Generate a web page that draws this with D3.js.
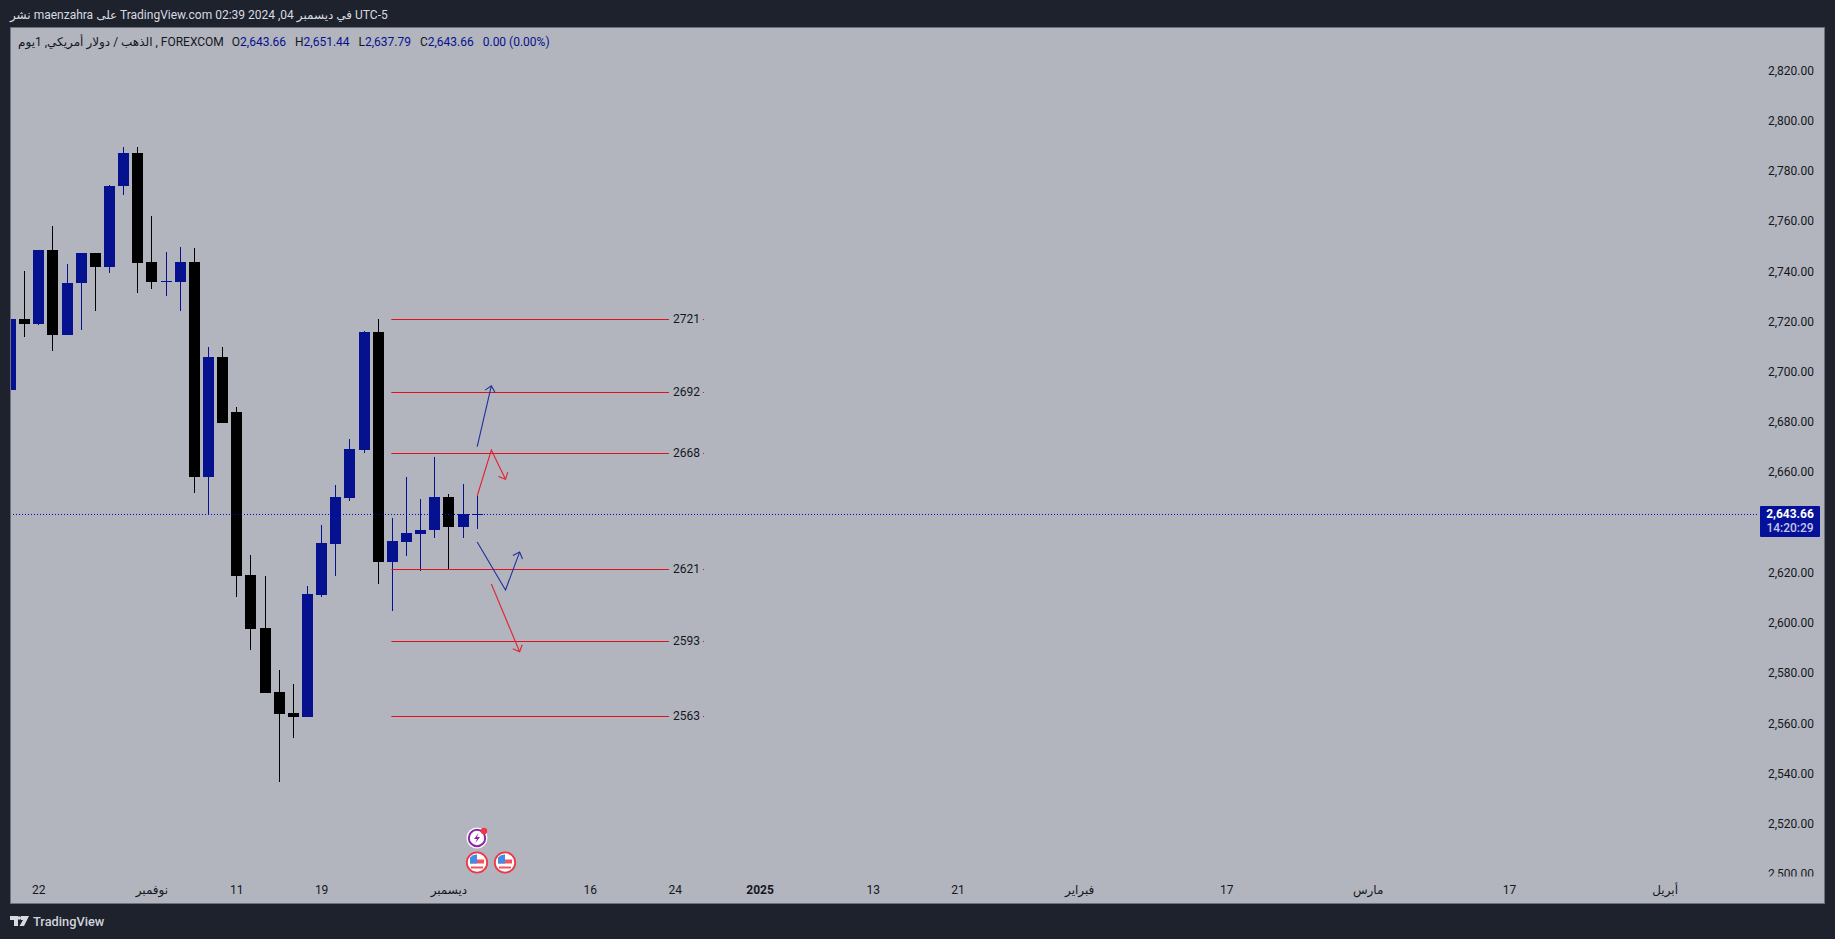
<!DOCTYPE html>
<html><head><meta charset="utf-8">
<style>html,body{margin:0;padding:0;background:#1e222d;overflow:hidden}svg{display:block}text{white-space:pre}</style>
<script src="https://cdn.jsdelivr.net/npm/d3@7"></script></head>
<body><svg id="c" width="1835" height="939"></svg>
<script>
// bar index 0 is the first (clipped) candle
const opens  = [2693.18,2721.47,2719.48,2748.96,2715.09,2735.81,2747.76,2742.19,2774.46,2787.60,2744.18,2736.61,2736.21,2744.18,2658.52,2706.33,2684.42,2619.48,2598.36,2572.86,2564.50,2562.90,2611.51,2631.83,2650.15,2669.28,2716.29,2624.66,2632.62,2635.81,2637.40,2650.55,2638.60,2643.66];
const highs  = [2722.66,2740.59,2748.96,2758.52,2743.38,2747.76,2747.76,2774.85,2789.99,2789.99,2762.50,2748.16,2750.15,2749.75,2710.31,2710.31,2686.41,2627.44,2619.08,2581.63,2576.05,2615.09,2639.40,2655.33,2673.66,2716.69,2721.47,2642.19,2658.52,2649.76,2666.49,2651.75,2655.73,2650.95];
const lows   = [2693.18,2714.30,2719.08,2708.72,2715.09,2717.09,2724.66,2739.80,2770.87,2731.83,2733.42,2730.63,2724.66,2652.00,2643.66,2680.03,2610.71,2589.60,2572.47,2537.01,2554.54,2562.90,2610.71,2619.08,2648.96,2668.08,2615.89,2605.13,2627.05,2621.07,2634.22,2621.87,2634.22,2637.80];
const closes = [2721.47,2719.48,2748.96,2715.09,2735.81,2747.76,2742.19,2774.46,2787.60,2743.78,2736.21,2736.61,2744.18,2658.52,2706.33,2680.03,2619.08,2597.96,2572.47,2564.10,2562.90,2611.91,2632.23,2650.55,2669.68,2716.29,2624.66,2633.02,2636.21,2637.40,2650.55,2638.60,2643.66,2643.66];
const upFlags = [1,0,1,0,1,1,0,1,1,0,0,1,1,0,1,0,0,0,0,0,0,1,1,1,1,1,0,1,1,1,1,0,1,1];

const priceTicks = d3.range(2500, 2821, 20);
const timeTickIdx = [2,10,16,22,31,41,47,53,61,67,75.6,86,96,106,117];
const timeTickLab = ["22","نوفمبر","11","19","ديسمبر","16","24","2025","13","21","فبراير","17","مارس","17","أبريل"];
const boldTimeTicks = ["2025"];

const levelPrices = [2721.35,2692.27,2667.96,2621.75,2593.06,2563.18];
const levelLabels = ["2721","2692","2668","2621","2593","2563"];
const levelFrom = 26.93, levelTo = 46.56;

const arrowBlueUpX = [33,34], arrowBlueUpY = [2670.6,2694.8];
const arrowRedUpDownX = [33,34,35], arrowRedUpDownY = [2650.95,2669.28,2657.6];
const arrowBlueDownUpX = [33,35,36], arrowBlueDownUpY = [2632.62,2613.5,2628.6];
const arrowRedDownX = [34,36], arrowRedDownY = [2615.89,2588.9];

const lastPrice = 2643.66;
const headerParts = ["نشر"," maenzahra ","على"," TradingView.com 02:39 2024 ,04 ","في ديسمبر"," UTC-5"];
const countdown = "14:20:29";
const legendParts = ["الذهب / دولار أمريكي, 1يوم",", FOREXCOM"];
const legendItems = [["O","2,643.66"],["H","2,651.44"],["L","2,637.79"],["C","2,643.66"]];
const legendChange = "0.00 (0.00%)";

const BG="#1e222d", PANEL="#b2b5be", BLUE="#06118f", BLACK="#000000", RED="#e0101c", LBLUE="#1f2f9a", ARED="#e5202f";
const FONT="Roboto,'DejaVu Sans',sans-serif";
const svg=d3.select("#c");
const L=10,T=27,R=1824,B=903,AX=1755;

svg.append("rect").attr("width",1835).attr("height",939).attr("fill",BG);
svg.append("rect").attr("x",L+.5).attr("y",T+.5).attr("width",R-L).attr("height",B-T).attr("fill",PANEL).attr("stroke","#6f727d").attr("stroke-width",1);

const defs=svg.append("defs");
defs.append("clipPath").attr("id","plot").append("rect").attr("x",L+1).attr("y",T+1).attr("width",R-L-1).attr("height",B-T-1);
defs.append("clipPath").attr("id","pricecol").append("rect").attr("x",L).attr("y",T).attr("width",R-L).attr("height",876.5-T);

const x=d3.scaleLinear().domain([1,33]).range([24.65,477.2]);
const y=d3.scaleLinear().domain([lastPrice,2620]).range([514.3,573.7]);

// sequential ltr runs, so the mixed-script strings keep the reference's visual order
function runs(parent,x0,yy,parts,attrs){
  let cx=x0;
  parts.forEach(p=>{
    const t=parent.append("text").attr("x",cx).attr("y",yy).attr("dy","0.35em").attr("font-family",FONT).attr("font-size",12)
      .attr("fill",attrs.fill).text(p.text||p);
    if(p.fill) t.attr("fill",p.fill);
    cx+=t.node().getComputedTextLength()+(p.gap||0);
  });
  return cx;
}

// header
runs(svg,10,15,headerParts,{fill:"#d8dae0"});

// candles
const plot=svg.append("g").attr("clip-path","url(#plot)");
opens.forEach((o,i)=>{
  const c=closes[i], col=upFlags[i]?BLUE:BLACK, cx=Math.floor(x(i));
  const hy=Math.round(y(highs[i])), ly=Math.round(y(lows[i]));
  plot.append("rect").attr("x",cx).attr("width",1).attr("y",hy).attr("height",Math.max(0,ly-hy)).attr("fill",col).attr("shape-rendering","crispEdges");
  const top=Math.round(y(Math.max(o,c))), bot=Math.max(top+1,Math.round(y(Math.min(o,c))));
  plot.append("rect").attr("x",cx-5).attr("width",11).attr("y",top).attr("height",bot-top).attr("fill",col).attr("shape-rendering","crispEdges");
});

// last price line
plot.append("line").attr("x1",L).attr("x2",AX+2).attr("y1",Math.floor(y(lastPrice))+.5).attr("y2",Math.floor(y(lastPrice))+.5)
  .attr("stroke","#0008c4").attr("stroke-width",1).attr("stroke-dasharray","1 2").attr("shape-rendering","crispEdges");

// levels
levelPrices.forEach((p,i)=>{
  const ly=Math.floor(y(p))+.5;
  plot.append("line").attr("x1",x(levelFrom)).attr("x2",x(levelTo)).attr("y1",ly).attr("y2",ly)
    .attr("stroke",RED).attr("stroke-width",1);
  plot.append("text").attr("x",x(levelTo)+17.5).attr("y",y(p)-0.7).attr("dy","0.35em").attr("text-anchor","middle")
    .attr("fill","#131722").attr("font-family",FONT).attr("font-size",12).text(levelLabels[i]);
  plot.append("rect").attr("x",x(levelTo)+34).attr("y",ly-.5).attr("width",1).attr("height",1).attr("fill",RED);
});

// arrows
function arrow(xs,ys,col){
  const pts=xs.map((d,i)=>[x(d),y(ys[i])]);
  plot.append("path").attr("d",d3.line()(pts)).attr("fill","none").attr("stroke",col).attr("stroke-width",1.1);
  const a=pts[pts.length-2], b=pts[pts.length-1], ang=Math.atan2(b[1]-a[1],b[0]-a[0]), s=7.5;
  const head=[[b[0]-s*Math.cos(ang-0.75),b[1]-s*Math.sin(ang-0.75)],b,[b[0]-s*Math.cos(ang+0.75),b[1]-s*Math.sin(ang+0.75)]];
  plot.append("path").attr("d",d3.line()(head)).attr("fill","none").attr("stroke",col).attr("stroke-width",1.1);
}
arrow(arrowBlueUpX,arrowBlueUpY,LBLUE);
arrow(arrowRedUpDownX,arrowRedUpDownY,ARED);
arrow(arrowBlueDownUpX,arrowBlueDownUpY,LBLUE);
arrow(arrowRedDownX,arrowRedDownY,ARED);

// price axis
const pa=svg.append("g").attr("clip-path","url(#pricecol)");
priceTicks.filter(t=>t!==2640).forEach(t=>{
  pa.append("text").attr("x",1814).attr("y",y(t)-1).attr("dy","0.35em").attr("text-anchor","end")
   .attr("fill","#131722").attr("font-family",FONT).attr("font-size",12).text(d3.format(",.2f")(t));
});

// price badge
svg.append("rect").attr("x",1760).attr("y",506).attr("width",60).attr("height",31).attr("rx",1).attr("fill","#06119a");
svg.append("text").attr("x",1790).attr("y",514).attr("dy","0.35em").attr("text-anchor","middle").attr("fill","#fff")
  .attr("font-family",FONT).attr("font-size",12).attr("font-weight",700).text(d3.format(",.2f")(lastPrice));
svg.append("text").attr("x",1790).attr("y",528).attr("dy","0.35em").attr("text-anchor","middle").attr("fill","#c3c6e6")
  .attr("font-family",FONT).attr("font-size",12).attr("font-weight",500).text(countdown);

// time axis
timeTickIdx.forEach((t,i)=>{
  const b=boldTimeTicks.includes(timeTickLab[i]);
  svg.append("text").attr("x",x(t)).attr("y",889.5).attr("dy","0.35em").attr("text-anchor","middle")
   .attr("fill","#131722").attr("font-family",FONT).attr("font-size",12).attr("font-weight",b?700:400).text(timeTickLab[i]);
});

// legend
const legendRuns=[{text:legendParts[0],gap:3},{text:legendParts[1],gap:2}];
legendItems.forEach(d=>{
  legendRuns.push({text:"  "+d[0]});
  legendRuns.push({text:d[1],fill:BLUE,gap:3});
});
legendRuns.push({text:"  "});
legendRuns.push({text:legendChange,fill:BLUE});
runs(svg,18,42,legendRuns,{fill:"#131722"});

// event icons
function flag(cx,cy){
  const g=svg.append("g").attr("transform",`translate(${cx},${cy})`);
  g.append("circle").attr("r",10.2).attr("fill","#fff").attr("stroke","#f23645").attr("stroke-width",1.8);
  g.append("path").attr("d","M-7,-3 H7 V1 H-7Z M-6,4 H6 V6 H-6Z").attr("fill","#f2545f");
  g.append("path").attr("d","M-7,-5 A8.5 8.5 0 0 1 0,-8 V1 H-7Z").attr("fill","#3d8fe6");
}
flag(477,862.5); flag(505,862.5);
const ev=svg.append("g").attr("transform","translate(477,838)");
ev.append("circle").attr("r",10.5).attr("fill","#fff");
ev.append("circle").attr("r",8.2).attr("fill","none").attr("stroke","#8e24aa").attr("stroke-width",2);
ev.append("path").attr("d","M1.5,-5 L-3,1 H0 L-1.5,5 L3,-1 H0Z").attr("fill","#8e24aa");
ev.append("circle").attr("cx",7).attr("cy",-7).attr("r",3.2).attr("fill","#f23645");

// logo
const lgo=svg.append("g").attr("transform","translate(10,916)");
lgo.append("path").attr("d","M0,0 H8 V10 H4 V4 H0Z M11,0 H19 L14,10 H9.5 L13,4 H11Z").attr("fill","#d8dae0");
lgo.append("circle").attr("cx",9.3).attr("cy",2).attr("r",1.8).attr("fill","#d8dae0");
svg.append("text").attr("x",33).attr("y",921.5).attr("dy","0.35em").attr("fill","#d1d4dc").attr("font-family",FONT).attr("font-size",12.8).attr("font-weight",500).text("TradingView");
</script></body></html>
